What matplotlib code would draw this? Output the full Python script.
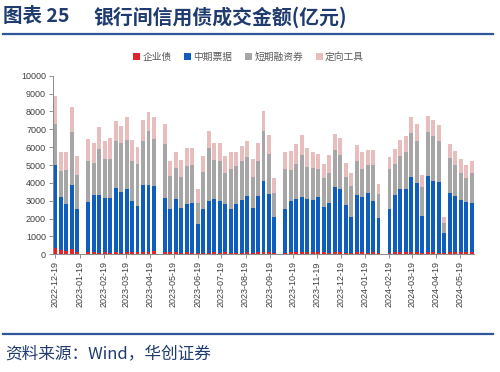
"""
银行间信用债成交金额(亿元) - weekly stacked bars
"""

import pandas as pd
import matplotlib
matplotlib.use('Agg')
import matplotlib.pyplot as plt  # pylint: disable=wrong-import-position
import matplotlib.dates as mdates  # pylint: disable=wrong-import-position
from matplotlib.patches import Patch  # pylint: disable=wrong-import-position

plt.rcParams['font.family'] = ['Noto Sans CJK SC', 'DejaVu Sans']

# weekly data, holiday weeks have no trading record
start_week = '2022-12-19'
n_weeks = 77
holiday_weeks = ['2023-01-23', '2023-05-01', '2023-10-02', '2024-02-12']

series_names = ['企业债', '中期票据', '短期融资券', '定向工具']

corp_bond = [330, 230, 200, 270, 150,
             110, 110, 100, 120, 100, 110, 100, 120, 130, 110, 150, 140, 160,
             140, 120, 110, 100, 110, 100, 80, 90, 100, 120, 100, 110, 100, 100,
             100, 110, 100, 130, 130, 110, 80,
             90, 110, 130, 120, 130, 110, 130, 120, 100, 140, 150, 100, 90,
             110, 120, 100, 110, 80,
             90, 120, 130, 120, 150, 110, 90, 140, 110, 100, 100, 150, 140,
             120, 110, 110]

mtn = [4670, 3000, 2600, 3610, 2390,
       2800, 3230, 3200, 3040, 3040, 3620, 3390, 3520, 2860, 2580, 3720, 3760, 3670,
       3000, 2440, 2970, 2490, 2720, 2760, 1620, 2450, 2900, 2960, 2860, 2690, 2410, 2710,
       2940, 3180, 2510, 3140, 3960, 3290, 2030,
       2470, 2880, 2990, 3110, 2950, 2930, 3080, 2530, 2790, 3650, 3500, 2660, 1980,
       3210, 3110, 3320, 2860, 1970,
       2430, 3220, 3530, 3560, 4160, 3870, 2080, 4250, 4000, 3950, 1080, 3270, 3150,
       2920, 2800, 2750]

cp = [2300, 1440, 1920, 2950, 1900,
      2330, 1760, 2610, 2170, 2220, 2610, 2760, 2760, 2260, 2390, 2480, 2990, 2650,
      3030, 1800, 1770, 1760, 2100, 2150, 1200, 2050, 2960, 2200, 2290, 1770, 2290, 2140,
      2170, 2150, 1740, 1980, 2840, 2220, 1310,
      2200, 1740, 1940, 2320, 1790, 1770, 1550, 1620, 1680, 2050, 1910, 1550, 1760,
      1890, 1550, 1570, 2050, 1330,
      2240, 1700, 1850, 2020, 2500, 2370, 1620, 2430, 2520, 2300, 560, 1960, 1720,
      1530, 1350, 1720]

ppn = [1570, 1060, 1010, 1400, 1060,
       1200, 1120, 1210, 1030, 1140, 1100, 950, 1310, 1160, 920, 1180, 1060, 1190,
       1110, 880, 900, 930, 1010, 960, 750, 910, 970, 930, 970, 920, 910, 770,
       880, 920, 970, 970, 1120, 1060, 880,
       990, 1080, 1100, 1140, 1080, 930, 860, 780, 1010, 900, 950, 820, 710,
       900, 930, 860, 820, 560,
       710, 840, 900, 930, 860, 930, 650, 950, 900, 880, 340, 800, 800,
       770, 750, 670]

tick_dates = ['2022-12-19', '2023-01-19', '2023-02-19', '2023-03-19', '2023-04-19',
              '2023-05-19', '2023-06-19', '2023-07-19', '2023-08-19', '2023-09-19',
              '2023-10-19', '2023-11-19', '2023-12-19', '2024-01-19', '2024-02-19',
              '2024-03-19', '2024-04-19', '2024-05-19']
y_ticks = list(range(0, 10001, 1000))

colors = ['#E2232A', '#0F5EBE', '#A6A6A6', '#E8BDBD']

weeks = pd.date_range(start_week, periods=n_weeks, freq='7D')
weeks = weeks[~weeks.isin(pd.to_datetime(holiday_weeks))]

df = pd.DataFrame({
    'date': weeks,
    series_names[0]: corp_bond,
    series_names[1]: mtn,
    series_names[2]: cp,
    series_names[3]: ppn,
})

fig = plt.figure(figsize=(5, 3.72), dpi=100)
ax = fig.add_axes([0.106, 0.3164, 0.842, 0.4801])

bottom = pd.Series(0, index=df.index)
for name, color in zip(series_names, colors):
    ax.bar(df['date'], df[name], bottom=bottom, width=5, color=color, linewidth=0)
    bottom = bottom + df[name]

ax.set_ylim(0, 10000)
ax.set_yticks(y_ticks)
ax.set_xlim(pd.Timestamp('2022-12-16'), pd.Timestamp('2024-06-06'))
ax.set_xticks(pd.to_datetime(tick_dates))
ax.xaxis.set_major_formatter(mdates.DateFormatter('%Y-%m-%d'))

for lbl in ax.get_xticklabels():
    lbl.set_rotation(90)
    lbl.set_family('Liberation Sans')
for lbl in ax.get_yticklabels():
    lbl.set_family('Liberation Sans')

ax.tick_params(axis='both', labelsize=6.5, length=3, width=0.6,
               direction='out', pad=2)
ax.tick_params(axis='x', colors='#808080', labelcolor='#404040')
ax.tick_params(axis='y', colors='#808080', labelcolor='#404040')
for side in ['top', 'right']:
    ax.spines[side].set_visible(False)
for side in ['left', 'bottom']:
    ax.spines[side].set_color('#8C8C8C')
    ax.spines[side].set_linewidth(0.7)

# legend above the plot
handles = [Patch(facecolor=c, edgecolor='none') for c in colors]
leg = fig.legend(handles, series_names, loc='center', ncol=4, frameon=False,
                 bbox_to_anchor=(0.497, 1 - 57 / 372), fontsize=7,
                 handlelength=0.75, handleheight=0.75, handletextpad=0.2,
                 columnspacing=1.3)
for t in leg.get_texts():
    t.set_color('#595959')

# title and source, page style
title_color = '#1F3B6F'
fig.text(3 / 500, 1 - 17 / 372, '图表 25', fontsize=14, fontweight='bold',
         color=title_color, va='center', ha='left')
fig.text(93 / 500, 1 - 17 / 372, '银行间信用债成交金额(亿元)', fontsize=14.3,
         fontweight='bold', color=title_color, va='center', ha='left')
fig.add_artist(plt.Line2D([3 / 500, 493 / 500], [1 - 34 / 372, 1 - 34 / 372],
                          color='#2E5597', linewidth=1.6))
fig.add_artist(plt.Line2D([3 / 500, 493 / 500], [1 - 334 / 372, 1 - 334 / 372],
                          color='#2E5597', linewidth=1.6))
fig.text(5 / 500, 1 - 354 / 372, '资料来源：Wind，华创证券', fontsize=12,
         color=title_color, va='center', ha='left', style='italic')

fig.savefig('out.png', dpi=100)
plt.close(fig)
